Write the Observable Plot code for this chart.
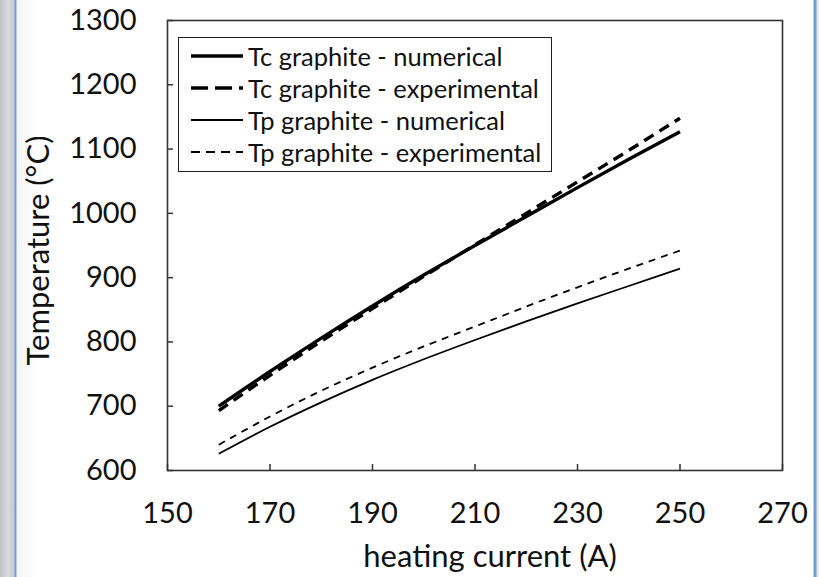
<!DOCTYPE html>
<html>
<head>
<meta charset="utf-8">
<script src="https://cdn.jsdelivr.net/npm/d3@7"></script>
<script src="https://cdn.jsdelivr.net/npm/@observablehq/plot@0.6"></script>
<style>
  html, body { margin: 0; padding: 0; }
  body {
    width: 819px; height: 577px; overflow: hidden; position: relative;
    background: linear-gradient(90deg, #bfc1c4 0px, #d9dadc 8px, #c9cacc 14px, #6e9ede 15px, #6e9ede 16px, #f4f4f4 17px, #ffffff 40px, #ffffff 813px, #6e9ede 814px, #6e9ede 816px, #e6e6e6 817px);
    font-family: Lato, "Open Sans", sans-serif;
  }
  #chart { position: absolute; left: 0; top: 0; }
  #legend {
    position: absolute; left: 178px; top: 37px; width: 372px; height: 131px;
    border: 1.5px solid #222; background: white; box-sizing: content-box;
    padding-top: 2px; font-size: 25.5px; color: #111;
  }
  .row { height: 32px; line-height: 32px; display: flex; align-items: center; }
  .row svg { width: 69px; height: 32px; flex: none; }
  .row span { white-space: nowrap; }
</style>
</head>
<body>
<div id="chart"></div>
<div id="legend"></div>
<script>
// Data
const current = [160, 170, 180, 190, 200, 210, 220, 230, 240, 250];
const tcNumerical    = [700, 754, 806, 856, 904, 950, 995, 1040, 1084, 1127];
const tcExperimental = [693, 748, 801, 852, 902, 951, 1000, 1049, 1098, 1148];
const tpNumerical    = [626, 668, 706, 741, 773, 803, 832, 860, 887, 914];
const tpExperimental = [640, 684, 724, 760, 793, 824, 855, 885, 914, 942];

const xTicks = [150, 170, 190, 210, 230, 250, 270];
const yTicks = [600, 700, 800, 900, 1000, 1100, 1200, 1300];

const seriesNames = [
  "Tc graphite - numerical",
  "Tc graphite - experimental",
  "Tp graphite - numerical",
  "Tp graphite - experimental"
];
const seriesValues = [tcNumerical, tcExperimental, tpNumerical, tpExperimental];
const seriesStyle = [
  {strokeWidth: 3.4, strokeDasharray: null},
  {strokeWidth: 3.4, strokeDasharray: "11,7"},
  {strokeWidth: 1.8, strokeDasharray: null},
  {strokeWidth: 1.8, strokeDasharray: "7,6"}
];

const table = seriesNames.map((name, i) =>
  current.map((c, j) => ({series: name, current: c, temp: seriesValues[i][j]}))
);

const fontFamily = "Lato, 'Open Sans', sans-serif";
const plain = d => String(d);

const chart = Plot.plot({
  width: 819,
  height: 577,
  marginLeft: 167,
  marginRight: 37,
  marginTop: 20,
  marginBottom: 107,
  style: {background: "transparent", fontFamily, fontSize: "29px", color: "#111"},
  x: {domain: [150, 270]},
  y: {domain: [600, 1300]},
  marks: [
    Plot.axisX({ticks: xTicks, tickSize: 0, tickPadding: 32, label: null, fontSize: 29, tickFormat: plain}),
    Plot.axisX({ticks: xTicks, tickSize: -6, tickFormat: () => "", label: null, stroke: "#333", strokeWidth: 1.5}),
    Plot.axisY({ticks: yTicks, tickSize: 0, tickPadding: 31, label: null, fontSize: 29, tickFormat: plain}),
    Plot.axisY({ticks: yTicks, tickSize: -6, tickFormat: () => "", label: null, stroke: "#333", strokeWidth: 1.5}),
    ...table.map((rows, i) => Plot.line(rows, {
      x: "current", y: "temp", stroke: "#000",
      curve: "monotone-x",
      strokeWidth: seriesStyle[i].strokeWidth,
      strokeDasharray: seriesStyle[i].strokeDasharray,
      strokeLinecap: "butt"
    })),
    Plot.frame({stroke: "#333", strokeWidth: 1.6}),
    Plot.text(["heating current (A)"], {frameAnchor: "bottom", dx: 15, dy: 96, fontSize: 31, lineAnchor: "bottom", textAnchor: "middle", fill: "#111"}),
    Plot.text(["Temperature (°C)"], {frameAnchor: "left", dx: -128, dy: 5, rotate: -90, fontSize: 31, fill: "#111", textAnchor: "middle", lineAnchor: "middle"})
  ]
});
document.getElementById("chart").appendChild(chart);

// Legend (drawn inside the plot area like the original)
const legend = document.getElementById("legend");
seriesNames.forEach((name, i) => {
  const row = document.createElement("div");
  row.className = "row";
  const st = seriesStyle[i];
  const legendDash = [null, "17,7", null, "9,6"][i];
  row.innerHTML = `<svg><line x1="12" x2="64" y1="16" y2="16" stroke="#000" stroke-width="${st.strokeWidth}" ${legendDash ? `stroke-dasharray="${legendDash}"` : ""}/></svg><span>${name}</span>`;
  legend.appendChild(row);
});
</script>
</body>
</html>
